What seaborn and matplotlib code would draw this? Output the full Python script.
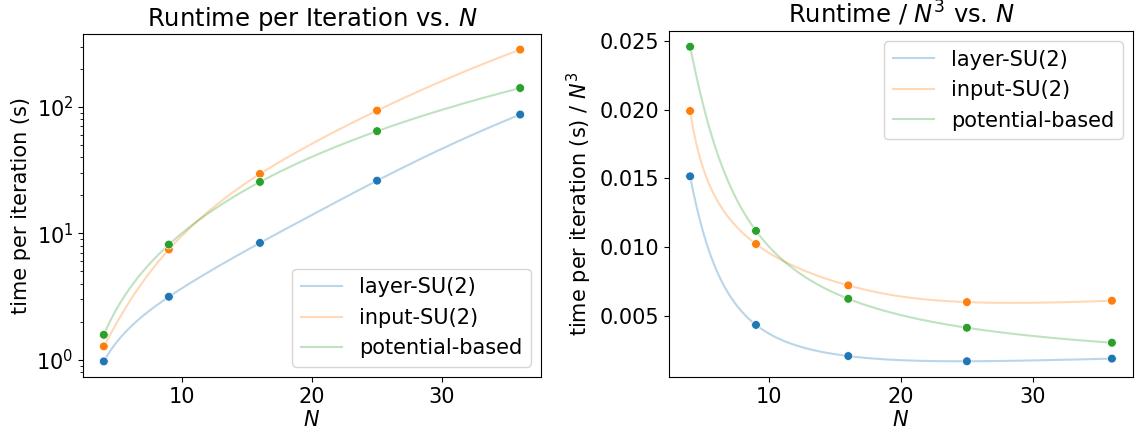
import seaborn as sns
import matplotlib.pyplot as plt
import pandas as pd
import numpy as np

# problem sizes and measured runtime per iteration (seconds)
N = [4, 9, 16, 25, 36]
methods = ['layer-SU(2)', 'input-SU(2)', 'potential-based']
t_layer = [0.97, 3.15, 8.4, 26.1, 87.0]
t_input = [1.275, 7.45, 29.5, 93.5, 284.0]
t_potential = [1.575, 8.15, 25.5, 64.3, 141.0]

colors = ['#1f77b4', '#ff7f0e', '#2ca02c']


def spline(x, y, xs):
    # not-a-knot cubic spline through 5 points (single interior knot)
    x = np.asarray(x, float)
    y = np.asarray(y, float)
    k = x[2]
    basis = lambda v: np.column_stack([np.ones_like(v), v, v**2, v**3,
                                       np.clip(v - k, 0, None)**3])
    coef = np.linalg.solve(basis(x), y)
    return basis(xs) @ coef


x = np.array(N, float)
xs = np.linspace(x.min(), x.max(), 400)
series = {'layer-SU(2)': t_layer, 'input-SU(2)': t_input,
          'potential-based': t_potential}

pts, curves = [], []
for m in methods:
    y = np.array(series[m])
    ys = spline(x, y, xs)
    pts.append(pd.DataFrame({'N': x, 't': y, 'tn': y / x**3, 'method': m}))
    curves.append(pd.DataFrame({'N': xs, 't': ys, 'tn': ys / xs**3,
                                'method': m}))
pts = pd.concat(pts)
curves = pd.concat(curves)

plt.rcParams.update({'font.size': 15, 'text.color': 'black',
                     'axes.labelcolor': 'black', 'xtick.color': 'black',
                     'ytick.color': 'black', 'axes.edgecolor': 'black'})

W, H = 1135, 434
fig = plt.figure(figsize=(W / 100, H / 100), dpi=100)
ax1 = fig.add_axes([83 / W, (H - 377) / H, 458 / W, 343 / H])
ax2 = fig.add_axes([669 / W, (H - 377) / H, 464 / W, 346 / H])

for ax, col in [(ax1, 't'), (ax2, 'tn')]:
    sns.lineplot(data=curves, x='N', y=col, hue='method', palette=colors,
                 alpha=0.3, linewidth=1.5, ax=ax)
    sns.scatterplot(data=pts, x='N', y=col, hue='method', palette=colors,
                    s=40, legend=False, ax=ax, zorder=3)
    h, l = ax.get_legend_handles_labels()
    for hh in h:
        hh.set_alpha(0.3)
    ax.set_xlabel('$N$', labelpad=2)

ax1.set_yscale('log')
ax1.set_ylabel('time per iteration (s)')
ax1.set_title('Runtime per Iteration vs. $N$', fontsize=17.5)
h, l = ax1.get_legend_handles_labels()
ax1.legend(h, l, loc='lower right')

ax2.set_ylabel('time per iteration (s) / $N^3$')
ax2.set_title('Runtime / $N^3$ vs. $N$', fontsize=17.5)
h, l = ax2.get_legend_handles_labels()
ax2.legend(h, l, loc='upper right')

fig.savefig('out.png', dpi=100)
